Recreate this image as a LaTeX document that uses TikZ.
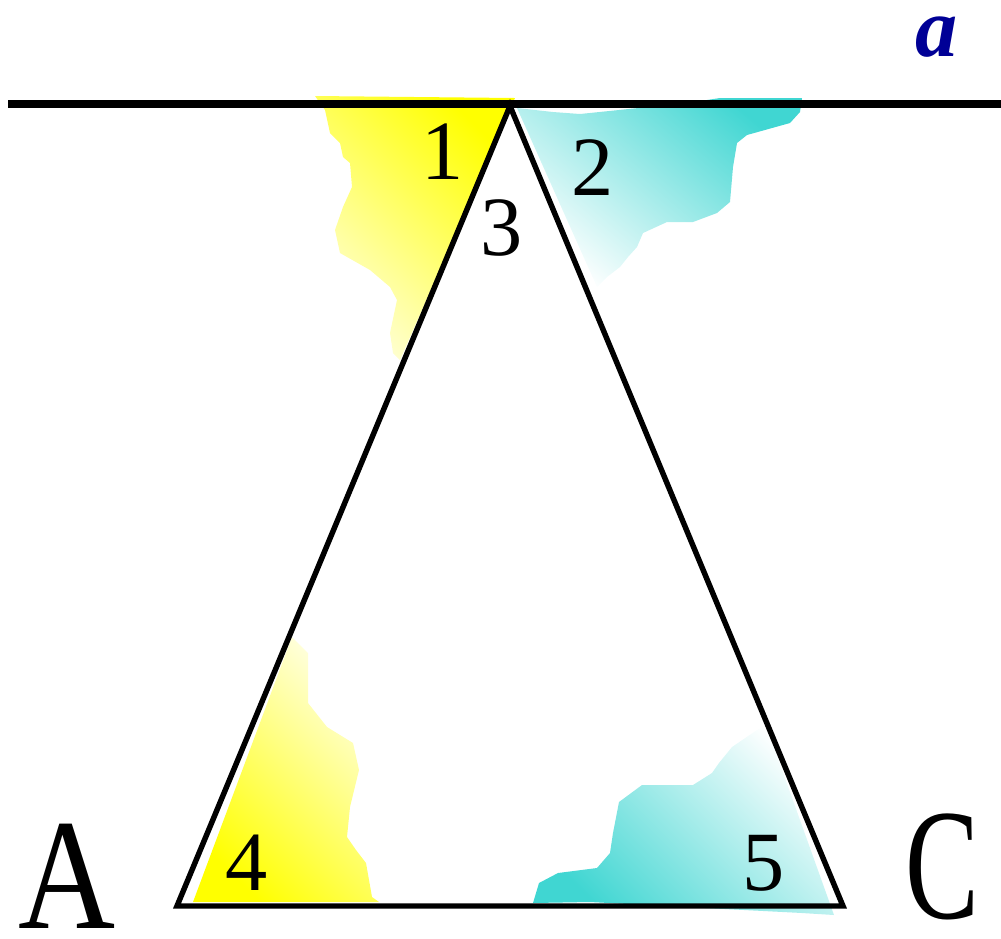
\documentclass[tikz,border=0pt]{standalone}
\usepackage{fontspec}
\setmainfont{Liberation Serif}
\usepackage{tikz}
\usetikzlibrary{positioning}
\definecolor{paleyellow}{RGB}{255,255,215}
\definecolor{seacyan}{RGB}{64,214,210}
\definecolor{labelblue}{RGB}{0,0,150}
\tikzset{
  angle num/.style={font=\fontsize{48}{50}\selectfont, inner sep=0pt},
  vertex name/.style={font=\fontsize{90}{94}\selectfont, inner sep=0pt, text depth=0pt},
  thick edge/.style={line width=3.1pt, line join=miter},
}
\begin{document}
\begin{tikzpicture}[x=0.02cm, y=-0.02cm]
			\useasboundingbox (0,0) rectangle (1001,938);
			\coordinate (B) at (510,106);
			\coordinate (A) at (177,906);
			\coordinate (C) at (843,906);
			\coordinate (aL) at (8,104);
			\coordinate (aR) at (1001,104);

			% coloured patches at the angles
			\shade[top color=yellow, bottom color=paleyellow, shading angle=-45]
				(315,96) -- (515,98) -- (400,360) -- (393,353) -- (390,333) -- (397,300)
				-- (390,287) -- (370,270) -- (340,253) -- (335,230) -- (343,207)
				-- (352,187) -- (350,163) -- (343,157) -- (340,143) -- (330,133) -- (325,110) -- cycle;
			\shade[top color=seacyan, bottom color=white, shading angle=-40]
				(517,108) -- (553,112) -- (580,114) -- (687,103) -- (720,98) -- (802,98)
				-- (800,112) -- (790,123) -- (747,135) -- (737,143) -- (733,167) -- (730,202)
				-- (717,213) -- (693,222) -- (667,222) -- (643,233) -- (637,247) -- (628,257)
				-- (620,267) -- (607,277) -- (597,287) -- cycle;
			\shade[top color=paleyellow!60!white, bottom color=yellow, shading angle=-45]
				(292,637) -- (308,653) -- (308,703) -- (327,727) -- (353,743) -- (359,770)
				-- (350,807) -- (347,837) -- (356,850) -- (366,863) -- (372,897) -- (379,902)
				-- (193,902) -- cycle;
			\shade[top color=white, bottom color=seacyan, shading angle=-45]
				(533,903) -- (539,883) -- (558,873) -- (597,868) -- (610,853) -- (613,833)
				-- (619,802) -- (642,785) -- (668,785) -- (693,785) -- (712,773) -- (719,763)
				-- (732,747) -- (757,730) -- (766,725) -- (834,915) -- (802,913) -- (590,902) -- cycle;

			\draw[line width=4.2pt] (aL) -- (aR);
			\draw[thick edge] (A) -- (B) -- (C) -- cycle;

			\node[angle num] (n1) at (443,152) {1};
			\node[angle num] (n2) at (593,168) {2};
			\node[angle num] (n3) at (502,228) {3};
			\node[angle num] (n4) at (247,863) {4};
			\node[angle num] (n5) at (764,863) {5};
			\node[vertex name] (lA) at (67,876) {\scalebox{0.85}[1]{A}};
			\node[vertex name] (lC) at (942,866) {\scalebox{0.7}[1]{C}};
			\node[font=\fontsize{48}{50}\selectfont\bfseries\itshape, text=labelblue, inner sep=0pt] (la) at (937,37) {a};
		\end{tikzpicture}
\end{document}
